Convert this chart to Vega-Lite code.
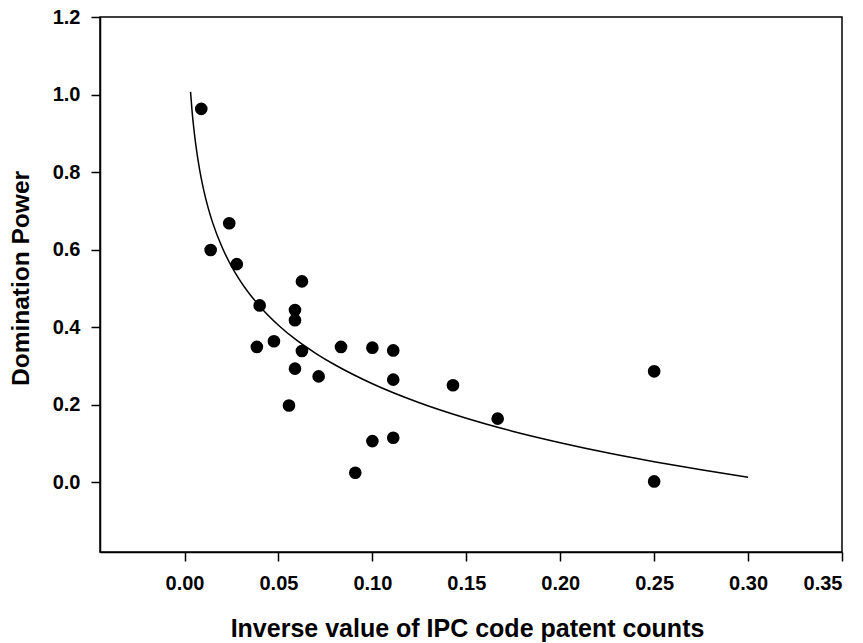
{
  "$schema": "https://vega.github.io/schema/vega-lite/v6.json",
  "width": 742,
  "height": 535,
  "autosize": {"type": "none"},
  "padding": {"left": 100, "top": 17, "right": 21, "bottom": 91},
  "background": "white",
  "config": {
    "view": {"stroke": "black", "strokeWidth": 1.5},
    "axis": {
      "grid": false,
      "domainColor": "black",
      "domainWidth": 1.5,
      "tickColor": "black",
      "tickWidth": 1.5,
      "tickSize": 9,
      "labelFont": "Liberation Sans",
      "labelFontWeight": "bold",
      "labelFontSize": 20,
      "labelColor": "black",
      "titleFont": "Liberation Sans",
      "titleFontWeight": "bold",
      "titleFontSize": 24,
      "titleColor": "black"
    }
  },
  "datasets": {
    "points": [
      {"x": 0.0089, "y": 0.963},
      {"x": 0.0139, "y": 0.599},
      {"x": 0.0238, "y": 0.668},
      {"x": 0.0278, "y": 0.5625},
      {"x": 0.0625, "y": 0.518},
      {"x": 0.0400, "y": 0.456},
      {"x": 0.0588, "y": 0.444},
      {"x": 0.0588, "y": 0.418},
      {"x": 0.0385, "y": 0.349},
      {"x": 0.0476, "y": 0.3636},
      {"x": 0.0625, "y": 0.3385},
      {"x": 0.0833, "y": 0.349},
      {"x": 0.1000, "y": 0.347},
      {"x": 0.1111, "y": 0.340},
      {"x": 0.0588, "y": 0.293},
      {"x": 0.0714, "y": 0.273},
      {"x": 0.1111, "y": 0.2646},
      {"x": 0.0556, "y": 0.198},
      {"x": 0.1000, "y": 0.106},
      {"x": 0.1111, "y": 0.1147},
      {"x": 0.0909, "y": 0.0243},
      {"x": 0.1429, "y": 0.250},
      {"x": 0.1667, "y": 0.164},
      {"x": 0.2500, "y": 0.286},
      {"x": 0.2500, "y": 0.002}
    ],
    "curve": [
      {"x": 0.0032, "y": 1.007},
      {"x": 0.004, "y": 0.958},
      {"x": 0.005, "y": 0.910},
      {"x": 0.006, "y": 0.870},
      {"x": 0.008, "y": 0.807},
      {"x": 0.010, "y": 0.758},
      {"x": 0.0125, "y": 0.709},
      {"x": 0.015, "y": 0.669},
      {"x": 0.020, "y": 0.606},
      {"x": 0.025, "y": 0.557},
      {"x": 0.030, "y": 0.517},
      {"x": 0.040, "y": 0.454},
      {"x": 0.050, "y": 0.405},
      {"x": 0.060, "y": 0.365},
      {"x": 0.070, "y": 0.332},
      {"x": 0.080, "y": 0.303},
      {"x": 0.100, "y": 0.254},
      {"x": 0.125, "y": 0.205},
      {"x": 0.150, "y": 0.165},
      {"x": 0.175, "y": 0.131},
      {"x": 0.200, "y": 0.102},
      {"x": 0.225, "y": 0.076},
      {"x": 0.250, "y": 0.053},
      {"x": 0.275, "y": 0.032},
      {"x": 0.300, "y": 0.013}
    ]
  },
  "encoding": {
    "x": {
      "field": "x",
      "type": "quantitative",
      "scale": {"domain": [-0.045, 0.35], "nice": false, "zero": false},
      "axis": {
        "title": "Inverse value of IPC code patent counts",
        "values": [0, 0.05, 0.1, 0.15, 0.2, 0.25, 0.3, 0.35],
        "format": ".2f",
        "labelPadding": 12,
        "titleFontSize": 25,
        "titleX": 367,
        "titleY": 84,
        "titleBaseline": "alphabetic",
        "titleAnchor": "middle"
      }
    },
    "y": {
      "field": "y",
      "type": "quantitative",
      "scale": {"domain": [-0.18, 1.2], "nice": false, "zero": false},
      "axis": {
        "title": "Domination Power",
        "values": [0, 0.2, 0.4, 0.6, 0.8, 1.0, 1.2],
        "format": ".1f",
        "labelPadding": 11,
        "titleFontSize": 24.5,
        "titleAngle": 270,
        "titleX": -72,
        "titleY": 261,
        "titleBaseline": "alphabetic",
        "titleAnchor": "middle"
      }
    }
  },
  "layer": [
    {
      "data": {"name": "curve"},
      "mark": {"type": "line", "color": "black", "strokeWidth": 1.5, "interpolate": "monotone"}
    },
    {
      "data": {"name": "points"},
      "mark": {"type": "circle", "color": "black", "opacity": 1, "size": 160}
    }
  ]
}
